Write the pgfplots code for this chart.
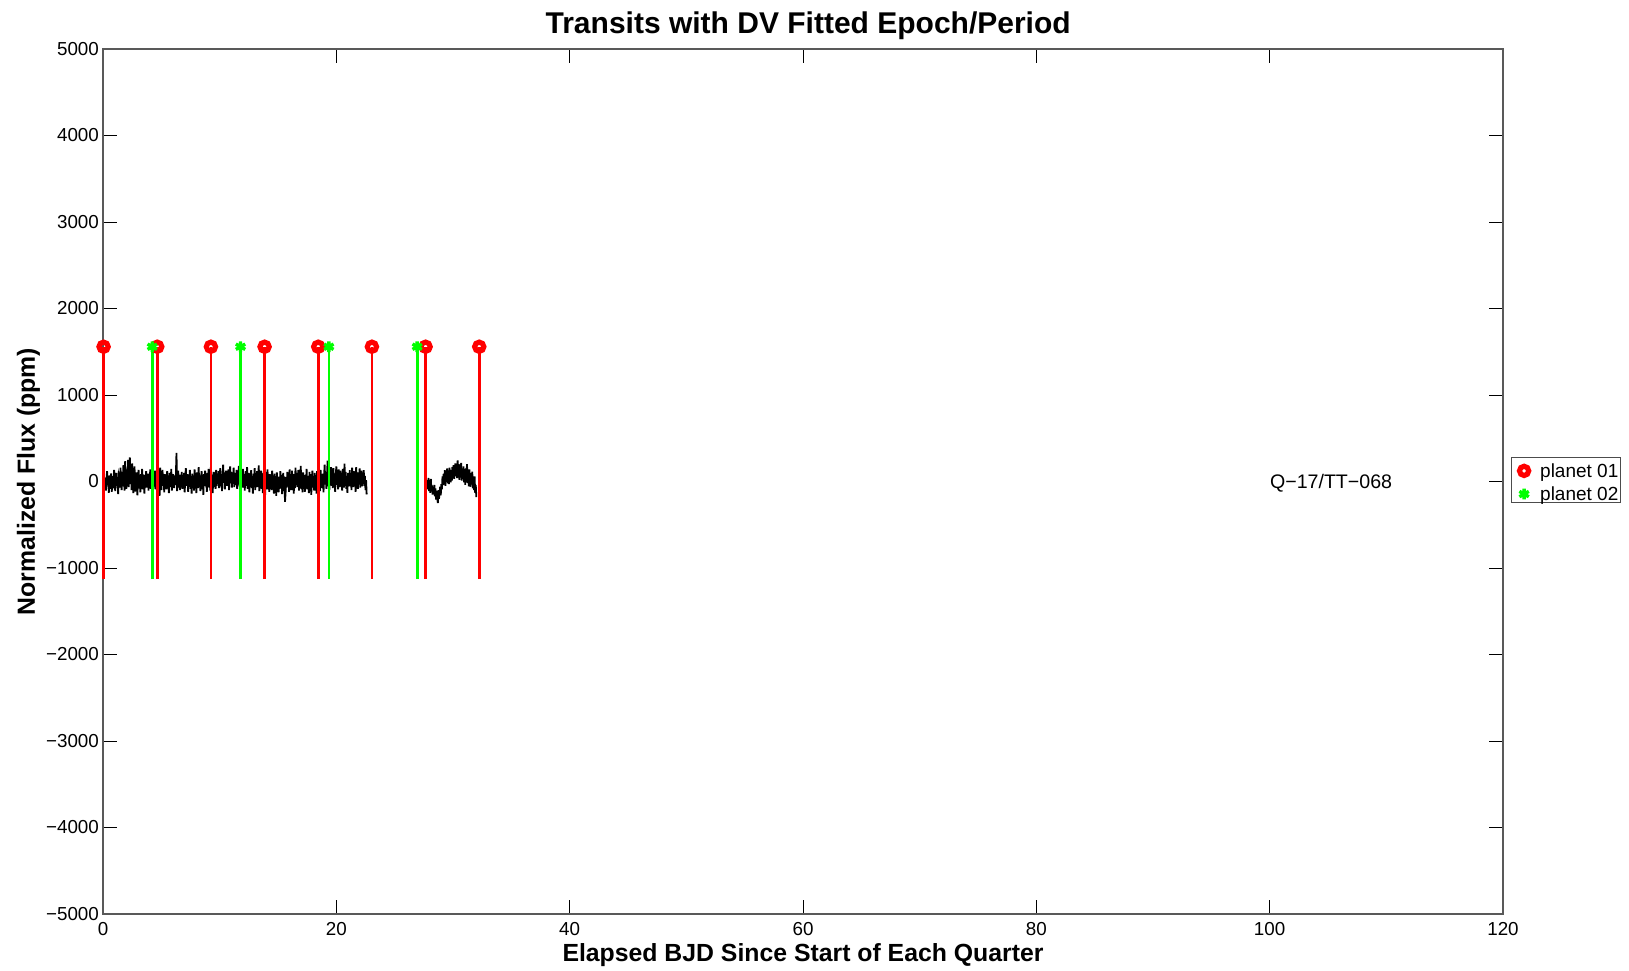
\documentclass[border=0pt]{standalone}
\usepackage{fontspec}
\setmainfont{Liberation Sans}
\usepackage{pgfplots}
\usepackage{pgfplotstable}
\pgfplotsset{compat=1.18}

% Flux, first segment: samples every 0.05 d starting at 0.15 d
\pgfplotstableread[row sep=\\, header=false]{
-60\\45\\-105\\30\\120\\-45\\10\\-130\\70\\20\\-85\\95\\-120\\-15\\60\\
-80\\135\\-30\\-110\\45\\100\\-50\\15\\-145\\65\\30\\-70\\160\\-35\\-100\\
110\\-55\\190\\20\\-105\\235\\45\\-85\\140\\-40\\250\\-65\\80\\280\\-30\\
125\\-100\\210\\10\\-135\\65\\175\\-50\\-115\\105\\35\\-160\\55\\135\\-80\\
15\\-125\\85\\-55\\145\\-90\\30\\80\\-140\\50\\-30\\120\\-70\\10\\90\\
-105\\45\\-35\\140\\-85\\20\\105\\-155\\55\\-20\\35\\125\\-90\\0\\-55\\
110\\-120\\65\\15\\-165\\160\\-40\\-100\\50\\135\\-50\\20\\-125\\85\\-15\\
40\\-90\\120\\-35\\55\\-135\\100\\10\\-65\\145\\-105\\30\\85\\-30\\-75\\
70\\-40\\90\\330\\-110\\35\\125\\-70\\15\\-100\\75\\-20\\110\\-85\\50\\
-65\\100\\-125\\30\\155\\-50\\-5\\85\\-120\\65\\-35\\135\\-85\\20\\-140\\
90\\-30\\55\\-105\\140\\-65\\35\\-135\\105\\5\\-75\\165\\-40\\70\\-110\\
20\\120\\-90\\50\\-155\\85\\-15\\125\\-55\\30\\-120\\100\\-35\\145\\-70\\
55\\-105\\175\\-20\\75\\-135\\40\\110\\-65\\15\\-85\\135\\-50\\90\\-30\\
120\\-75\\30\\155\\-55\\85\\-110\\65\\195\\-15\\105\\-90\\40\\125\\-50\\
75\\-35\\140\\-100\\55\\175\\-20\\110\\-70\\90\\-5\\160\\-65\\50\\100\\
-40\\135\\-85\\70\\15\\180\\-55\\105\\-120\\75\\30\\-70\\145\\-30\\85\\
-105\\55\\120\\-50\\165\\-85\\35\\100\\-125\\70\\-20\\130\\-75\\40\\-140\\
90\\-40\\155\\-100\\65\\-5\\120\\-65\\30\\185\\-110\\75\\-35\\125\\-85\\
40\\-135\\100\\-30\\70\\-155\\110\\5\\-90\\140\\-55\\35\\-120\\85\\-20\\
65\\-100\\125\\-50\\20\\-140\\90\\-70\\40\\-165\\105\\-30\\55\\-125\\30\\
-85\\120\\-40\\75\\-145\\15\\100\\-110\\55\\-235\\-130\\50\\-70\\110\\-35\\
70\\-120\\140\\-55\\35\\-100\\125\\-20\\85\\-140\\50\\-75\\160\\-40\\100\\
-65\\30\\135\\-105\\70\\-30\\180\\-85\\40\\-125\\105\\-15\\75\\-120\\55\\
-50\\145\\-90\\65\\20\\-135\\110\\-55\\85\\-155\\35\\125\\-70\\50\\-105\\
100\\-30\\70\\-140\\120\\-65\\165\\-40\\15\\-110\\135\\-75\\55\\-20\\90\\
-125\\60\\195\\-35\\110\\-85\\45\\240\\-55\\130\\-100\\85\\20\\165\\-50\\
120\\-75\\155\\-15\\90\\-120\\65\\175\\-40\\100\\-90\\140\\5\\-65\\125\\
-30\\85\\-105\\145\\50\\-70\\205\\-15\\110\\-85\\65\\-130\\100\\30\\-55\\
130\\-40\\75\\-100\\160\\15\\-65\\120\\-30\\85\\-120\\165\\-5\\55\\-85\\
105\\-35\\150\\-70\\50\\125\\-55\\85\\-20\\130\\-50\\65\\-100\\15\\-150\\
}\fluxA

% Flux, second segment: samples every 0.05 d starting at 27.8 d
\pgfplotstableread[row sep=\\, header=false]{
20\\-90\\40\\-110\\-20\\-130\\30\\-100\\-45\\-150\\-60\\
-120\\-40\\-170\\-80\\-210\\-110\\-180\\-250\\-100\\-200\\-140\\-60\\-160\\-30\\
-90\\60\\-40\\90\\-10\\130\\-50\\100\\20\\150\\-20\\120\\-30\\160\\40\\-10\\
130\\10\\170\\50\\190\\30\\140\\210\\60\\170\\40\\245\\90\\200\\20\\160\\60\\215\\10\\140\\
40\\175\\-10\\130\\-40\\150\\30\\200\\-15\\120\\-55\\140\\10\\-60\\100\\-35\\115\\-80\\40\\-100\\60\\-130\\-40\\-180\\
}\fluxB

\begin{document}
\begin{tikzpicture}
\path[use as bounding box] (-51.5pt,-28pt) rectangle (763pt,457pt);
\begin{axis}[
  at={(0,0)}, anchor=south west,
  scale only axis,
  width=700pt, height=432.5pt,
  xmin=0, xmax=120, ymin=-5000, ymax=5000,
  clip=false,
  xtick={0,20,40,60,80,100,120},
  xticklabels={0,20,40,60,80,100,120},
  ytick={-5000,-4000,-3000,-2000,-1000,0,1000,2000,3000,4000,5000},
  yticklabels={−5000,−4000,−3000,−2000,−1000,0,1000,2000,3000,4000,5000},
  tick align=inside,
  major tick length=7pt,
  minor tick num=0,
  tick style={black, line width=0.5pt},
  axis line style={black!65, line width=0.6pt},
  tick label style={font=\fontsize{9.4}{11}\selectfont},
  yticklabel style={inner sep=1.85pt},
  xticklabel style={inner sep=4.2pt},
  title={Transits with DV Fitted Epoch/Period},
  title style={at={(0.5037,1.0043)}, anchor=base, font=\bfseries\fontsize{15}{17}\selectfont},
  xlabel={Elapsed BJD Since Start of Each Quarter},
  xlabel style={at={(0.5,-0.055)}, anchor=base, font=\bfseries\fontsize{12.4}{14}\selectfont},
  ylabel={Normalized Flux (ppm)},
  ylabel style={at={(-0.0486,0.5)}, anchor=base, font=\bfseries\fontsize{12.4}{14}\selectfont},
  legend style={at={(1.0055,0.528)}, anchor=north west,
    font=\fontsize{9.5}{11}\selectfont, draw=black!70, line width=0.5pt,
    inner xsep=1pt, inner ysep=0.3pt, row sep=1.65pt,
    nodes={inner sep=0pt, text depth=0.5pt}},
  legend cell align=left,
  legend image code/.code={\path (0pt,6pt) (13pt,-1pt);
    \draw[mark repeat=2,mark phase=2,#1] plot coordinates {(3.2pt,0pt)(5.2pt,0pt)(7.2pt,0pt)};},
]
% light curve
\addplot[black, line width=0.9pt, forget plot] table[x expr={0.15+0.05*\coordindex}, y index=0] {\fluxA};
\addplot[black, line width=0.9pt, forget plot] table[x expr={27.8+0.05*\coordindex}, y index=0] {\fluxB};
% planet 01 transit lines
\addplot[red, line width=1.35pt, forget plot] coordinates {(0.05,-1130) (0.05,1558)};
\addplot[red, line width=1.35pt, forget plot] coordinates {(4.65,-1130) (4.65,1558)};
\addplot[red, line width=1.35pt, forget plot] coordinates {(9.25,-1130) (9.25,1558)};
\addplot[red, line width=1.35pt, forget plot] coordinates {(13.85,-1130) (13.85,1558)};
\addplot[red, line width=1.35pt, forget plot] coordinates {(18.45,-1130) (18.45,1558)};
\addplot[red, line width=1.35pt, forget plot] coordinates {(23.05,-1130) (23.05,1558)};
\addplot[red, line width=1.35pt, forget plot] coordinates {(27.65,-1130) (27.65,1558)};
\addplot[red, line width=1.35pt, forget plot] coordinates {(32.25,-1130) (32.25,1558)};
% planet 02 transit lines
\addplot[green, line width=1.35pt, forget plot] coordinates {(4.22,-1130) (4.22,1558)};
\addplot[green, line width=1.35pt, forget plot] coordinates {(11.79,-1130) (11.79,1558)};
\addplot[green, line width=1.35pt, forget plot] coordinates {(19.36,-1130) (19.36,1558)};
\addplot[green, line width=1.35pt, forget plot] coordinates {(26.93,-1130) (26.93,1558)};
% markers
\addplot[only marks, mark=o, red, mark size=2.3pt, mark options={line width=2.6pt}]
  coordinates {(0.05,1558) (4.65,1558) (9.25,1558) (13.85,1558) (18.45,1558) (23.05,1558) (27.65,1558) (32.25,1558)};
\addlegendentry{planet 01}
\addplot[only marks, mark=asterisk, green, mark size=2.7pt, mark options={line width=1.7pt}]
  coordinates {(4.22,1558) (11.79,1558) (19.36,1558) (26.93,1558)};
\addlegendentry{planet 02}
\node[anchor=west, inner sep=0pt, yshift=-0.7pt, font=\fontsize{9.8}{11}\selectfont] at (axis cs:100,0) {Q−17/TT−068};
\end{axis}
\end{tikzpicture}
\end{document}
